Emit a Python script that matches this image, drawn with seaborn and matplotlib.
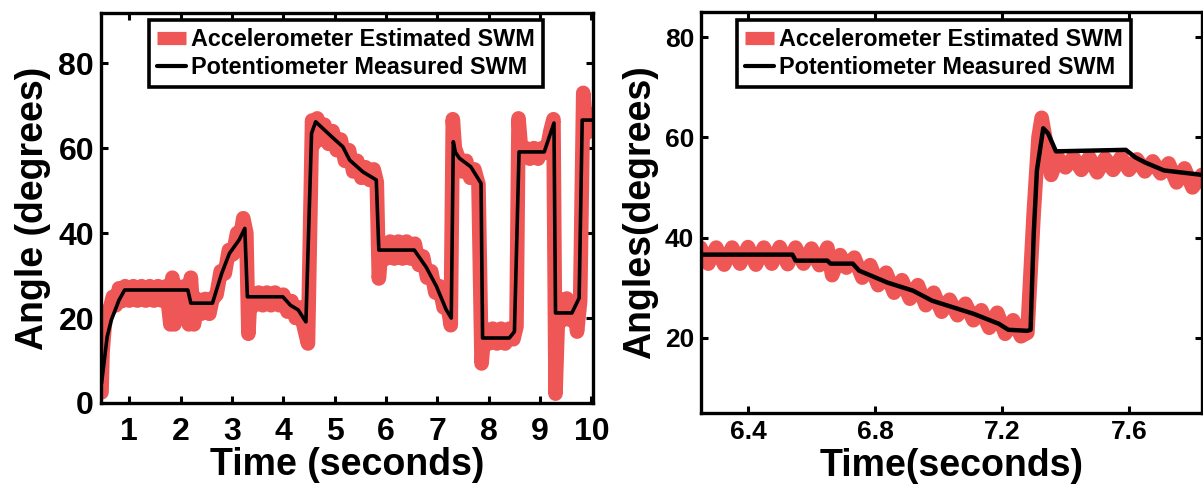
import matplotlib
matplotlib.use("Agg")
import matplotlib.pyplot as plt
import seaborn as sns
import pandas as pd

# ---------------- data: left panel (full trial) ----------------
left_pot_t = [0.46, 0.57, 0.65, 0.80, 0.91, 2.14, 2.20, 2.62, 2.80, 2.95, 3.14, 3.25, 3.30,
              3.99, 4.14, 4.29, 4.44, 4.55, 4.63, 4.94, 5.16, 5.29, 5.55, 5.81, 5.86, 6.55,
              6.78, 6.98, 7.17, 7.27, 7.31, 7.35, 7.43, 7.65, 7.85, 7.88, 8.40, 8.50, 8.59,
              9.08, 9.27, 9.30, 9.62, 9.76, 9.82, 10.03]
left_pot_y = [4.6, 15.6, 19.5, 24.2, 26.6, 26.6, 23.5, 23.5, 30.5, 35.2, 38.4, 41.1, 25.0,
              25.0, 23.0, 21.9, 19.1, 63.5, 66.2, 62.7, 60.3, 57.2, 54.4, 52.5, 36.0, 36.0,
              32.0, 27.5, 22.0, 20.0, 61.5, 59.0, 57.6, 55.6, 51.7, 15.3, 15.3, 16.8, 59.1,
              59.1, 65.9, 21.2, 21.2, 24.7, 66.6, 66.6]

left_acc_t = [0.46, 0.48, 0.52, 0.56, 0.62, 0.68, 0.74, 0.80, 0.86, 0.92, 1.00, 1.08, 1.16,
              1.24, 1.32, 1.40, 1.48, 1.56, 1.64, 1.72, 1.80, 1.84, 1.88, 1.94, 2.00, 2.08,
              2.16, 2.20, 2.26, 2.32, 2.40, 2.48, 2.56, 2.62, 2.70, 2.78, 2.86, 2.94, 3.02,
              3.10, 3.16, 3.22, 3.28, 3.32, 3.36, 3.44, 3.52, 3.60, 3.68, 3.76, 3.84, 3.92,
              4.00, 4.08, 4.16, 4.24, 4.32, 4.40, 4.48, 4.52, 4.56, 4.60, 4.66, 4.72, 4.80,
              4.88, 4.96, 5.04, 5.12, 5.20, 5.28, 5.36, 5.44, 5.52, 5.60, 5.68, 5.76, 5.82,
              5.86, 5.92, 6.00, 6.08, 6.16, 6.24, 6.32, 6.40, 6.48, 6.56, 6.64, 6.72, 6.80,
              6.88, 6.96, 7.04, 7.12, 7.20, 7.26, 7.30, 7.34, 7.40, 7.48, 7.56, 7.64, 7.72,
              7.80, 7.86, 7.92, 8.00, 8.08, 8.16, 8.24, 8.32, 8.40, 8.48, 8.54, 8.58, 8.64,
              8.72, 8.80, 8.88, 8.96, 9.04, 9.12, 9.20, 9.26, 9.30, 9.36, 9.44, 9.52, 9.60,
              9.66, 9.72, 9.78, 9.84, 9.90, 9.96, 10.03]
left_acc_y = [2.5, 12.0, 18.0, 21.5, 22.0, 25.0, 23.0, 27.0, 24.0, 27.5, 24.1, 27.5, 24.1,
              27.5, 24.1, 27.5, 24.1, 27.5, 24.1, 27.5, 18.5, 29.5, 18.5, 27.5, 24.1, 27.5,
              18.5, 29.5, 18.5, 24.5, 21.0, 24.5, 21.0, 24.5, 25.5, 31.0, 30.5, 36.0, 35.0,
              40.0, 39.0, 43.5, 40.0, 16.3, 26.0, 23.0, 26.0, 23.0, 26.0, 23.0, 26.0, 23.0,
              25.5, 21.5, 24.0, 20.0, 22.5, 18.0, 14.0, 40.0, 66.5, 61.0, 67.0, 62.0, 65.5,
              61.0, 64.0, 59.5, 62.0, 57.0, 59.5, 54.5, 57.0, 53.0, 55.5, 52.5, 55.0, 52.0,
              29.3, 37.5, 34.0, 38.0, 34.0, 38.0, 34.0, 38.0, 34.0, 37.5, 32.5, 34.5, 29.5,
              31.0, 26.0, 27.5, 22.5, 23.0, 18.3, 66.8, 60.0, 58.0, 54.5, 57.0, 53.0, 55.0,
              51.5, 9.3, 17.5, 14.0, 17.5, 14.0, 17.5, 14.0, 17.5, 15.0, 18.0, 67.0, 58.0,
              60.0, 57.5, 60.0, 57.5, 60.0, 59.0, 64.0, 66.8, 2.2, 24.6, 19.5, 24.6, 19.5,
              23.0, 16.8, 24.0, 73.0, 63.5, 68.0, 64.0]

left_xticks = [1, 2, 3, 4, 5, 6, 7, 8, 9, 10]
left_yticks = [0, 20, 40, 60, 80]

# ---------------- data: right panel (zoom 6.25 - 7.83 s) ----------------
right_pot_t = [6.251, 6.54, 6.55, 6.65, 6.66, 6.73, 6.75, 6.84, 6.92, 6.98, 7.05, 7.11,
               7.19, 7.22, 7.28, 7.29, 7.30, 7.31, 7.33, 7.345, 7.37, 7.59, 7.62, 7.65,
               7.71, 7.79, 7.83]
right_pot_y = [36.6, 36.6, 35.4, 35.4, 34.8, 34.8, 33.4, 31.0, 29.4, 27.4, 26.0, 24.8,
               22.8, 21.6, 21.4, 21.6, 40.8, 53.4, 61.8, 60.8, 57.2, 57.5, 56.0, 55.0,
               53.4, 52.8, 52.5]

right_acc_t = [6.250, 6.275, 6.300, 6.325, 6.350, 6.375, 6.400, 6.425, 6.450, 6.475, 6.500,
               6.525, 6.550, 6.575, 6.600, 6.625, 6.650, 6.665, 6.690, 6.710, 6.735, 6.760,
               6.785, 6.810, 6.835, 6.860, 6.885, 6.910, 6.935, 6.960, 6.985, 7.010, 7.035,
               7.060, 7.085, 7.110, 7.135, 7.160, 7.185, 7.210, 7.235, 7.260, 7.280, 7.300,
               7.315, 7.325, 7.340, 7.355, 7.375, 7.400, 7.425, 7.450, 7.475, 7.500, 7.525,
               7.550, 7.575, 7.600, 7.625, 7.650, 7.675, 7.700, 7.725, 7.750, 7.775, 7.800,
               7.830]
right_acc_y = [38.0, 34.8, 38.0, 34.6, 38.0, 34.8, 38.1, 34.6, 38.0, 34.8, 38.1,
               34.7, 38.0, 34.8, 37.8, 34.5, 38.0, 32.5, 36.5, 34.0, 36.0, 32.0,
               34.5, 30.5, 33.0, 29.0, 31.5, 27.8, 30.5, 26.5, 29.0, 25.2, 27.6,
               24.5, 26.8, 23.5, 25.5, 22.0, 25.0, 20.8, 23.5, 20.3, 21.0, 45.0,
               60.0, 63.9, 58.5, 52.5, 56.0, 54.0, 56.0, 53.5, 56.0, 53.0, 55.8,
               53.5, 56.0, 53.5, 55.6, 53.2, 55.2, 52.8, 54.8, 51.0, 53.8, 50.0,
               52.5]

right_xticks = [6.4, 6.8, 7.2, 7.6]
right_xticklabels = ["6.4", "6.8", "7.2", "7.6"]
right_yticks = [20, 40, 60, 80]

acc_label = "Accelerometer Estimated SWM"
pot_label = "Potentiometer Measured SWM"

# ---------------- style ----------------
sns.set_theme(style="white")
plt.rcParams["font.family"] = ["Liberation Sans", "DejaVu Sans"]
plt.rcParams["font.weight"] = "bold"
plt.rcParams["axes.labelweight"] = "bold"
for k in ("text.color", "axes.labelcolor", "xtick.color", "ytick.color",
          "xtick.labelcolor", "ytick.labelcolor"):
    plt.rcParams[k] = "black"

RED = "#EF5656"
W, H = 1203, 484
fig = plt.figure(figsize=(W / 100, H / 100), dpi=100)
fig.patch.set_facecolor("white")

axL = fig.add_axes([101 / W, 1 - 403 / H, 492 / W, 390 / H])
axR = fig.add_axes([701 / W, 1 - 413 / H, 501 / W, 401 / H])


def draw(ax, acc_t, acc_y, pot_t, pot_y, black_lw):
    dfa = pd.DataFrame({"t": acc_t, "y": acc_y})
    dfp = pd.DataFrame({"t": pot_t, "y": pot_y})
    sns.lineplot(data=dfa, x="t", y="y", ax=ax, color=RED, linewidth=10.5,
                 estimator=None, sort=False, label=acc_label,
                 solid_capstyle="round", solid_joinstyle="round", zorder=2)
    sns.lineplot(data=dfp, x="t", y="y", ax=ax, color="black", linewidth=black_lw,
                 estimator=None, sort=False, label=pot_label, zorder=3)


draw(axL, left_acc_t, left_acc_y, left_pot_t, left_pot_y, 2.6)
draw(axR, right_acc_t, right_acc_y, right_pot_t, right_pot_y, 3.2)

for ax in (axL, axR):
    for s in ax.spines.values():
        s.set_visible(True)
        s.set_color("black")
        s.set_linewidth(2.4)
    ax.tick_params(direction="in", length=5, width=2.2, color="black",
                   labelcolor="black", top=True, right=True, bottom=True, left=True)

# left axes
axL.set_xlim(0.45, 10.03)
axL.set_ylim(0, 91.8)
axL.set_xticks(left_xticks)
axL.set_yticks(left_yticks)
axL.tick_params(axis="x", labelsize=23, pad=10)
axL.tick_params(axis="y", labelsize=23, pad=5)
axL.set_xlabel("Time (seconds)", fontsize=27, fontweight="bold", labelpad=0,
               color="black")
axL.set_ylabel("Angle (degrees)", fontsize=27, fontweight="bold", labelpad=5,
               color="black")

# right axes
axR.set_xlim(6.252, 7.83)
axR.set_ylim(5, 85)
axR.set_xticks(right_xticks)
axR.set_xticklabels(right_xticklabels)
axR.set_yticks(right_yticks)
axR.tick_params(axis="both", labelsize=19, pad=5)
axR.set_xlabel("Time(seconds)", fontsize=27, fontweight="bold", labelpad=3,
               color="black")
axR.set_ylabel("Angles(degrees)", fontsize=27, fontweight="bold", labelpad=5,
               color="black")

for ax in (axL, axR):
    for lab in ax.get_xticklabels() + ax.get_yticklabels():
        lab.set_fontweight("bold")
        lab.set_color("black")
    ax.grid(False)

for ax, anchor in ((axL, (0.0976, 0.982)), (axR, (0.0719, 0.980))):
    leg = ax.legend(loc="upper left", bbox_to_anchor=anchor, borderaxespad=0,
                    frameon=True, fancybox=False, edgecolor="black",
                    handlelength=1.25, handletextpad=0.2, borderpad=0.35,
                    labelspacing=0.22, prop={"weight": "bold", "size": 16.8})
    leg.get_frame().set_linewidth(2.6)
    leg.get_frame().set_alpha(1)
    hs = leg.legend_handles
    hs[0].set_solid_capstyle("butt")
    hs[0].set_linewidth(9.5)
    hs[1].set_linewidth(3.0)
    for txt in leg.get_texts():
        txt.set_color("black")

fig.savefig("out.png", dpi=100, facecolor="white")
